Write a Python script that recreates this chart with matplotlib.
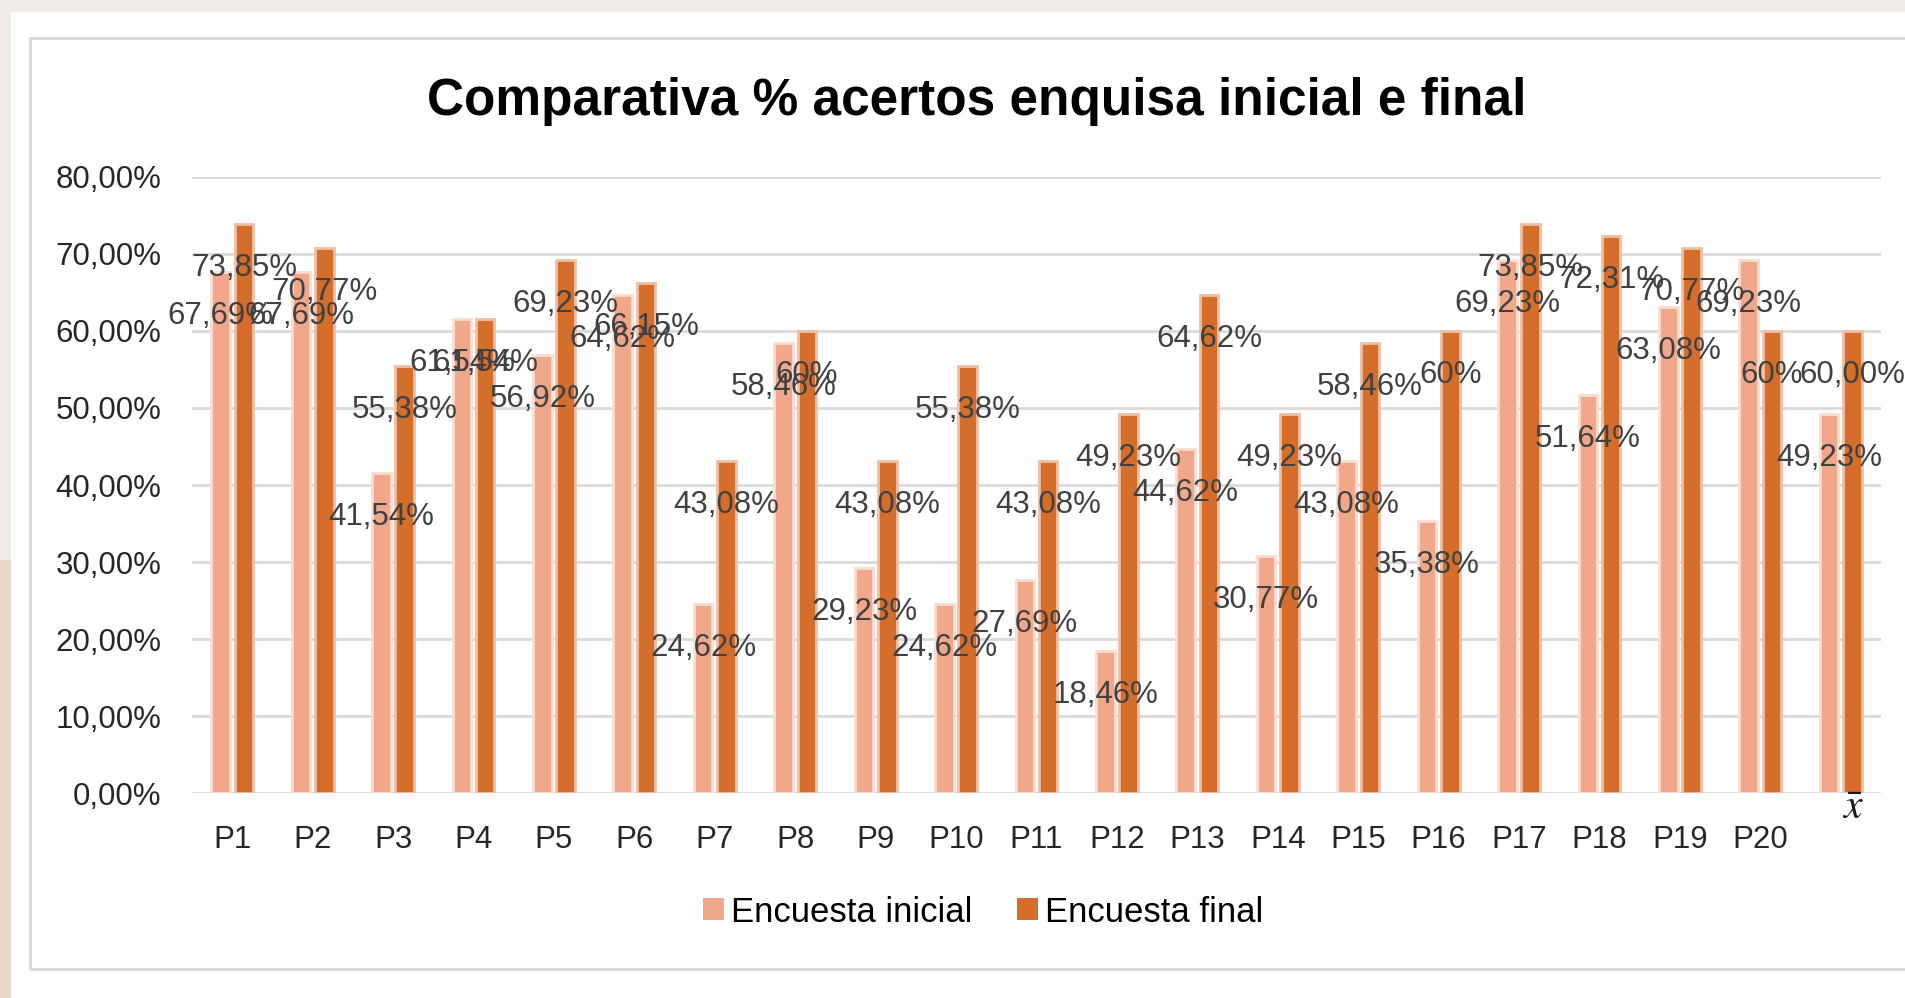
import matplotlib.pyplot as plt
from matplotlib.patches import Rectangle, Patch

# datos (porcentajes)
preguntas = ['P1', 'P2', 'P3', 'P4', 'P5', 'P6', 'P7', 'P8', 'P9', 'P10',
             'P11', 'P12', 'P13', 'P14', 'P15', 'P16', 'P17', 'P18', 'P19', 'P20']
media_label = '$\\bar{x}$'

inicial = [67.69, 67.69, 41.54, 61.54, 56.92, 64.62, 24.62, 58.46, 29.23, 24.62,
           27.69, 18.46, 44.62, 30.77, 43.08, 35.38, 69.23, 51.64, 63.08, 69.23, 49.23]
final = [73.85, 70.77, 55.38, 61.54, 69.23, 66.15, 43.08, 60.00, 43.08, 55.38,
         43.08, 49.23, 64.62, 49.23, 58.46, 60.00, 73.85, 72.31, 70.77, 60.00, 60.00]

etiq_inicial = ['67,69%', '67,69%', '41,54%', '61,54%', '56,92%', '64,62%', '24,62%',
                '58,46%', '29,23%', '24,62%', '27,69%', '18,46%', '44,62%', '30,77%',
                '43,08%', '35,38%', '69,23%', '51,64%', '63,08%', '69,23%', '49,23%']
etiq_final = ['73,85%', '70,77%', '55,38%', '61,54%', '69,23%', '66,15%', '43,08%',
              '60%', '43,08%', '55,38%', '43,08%', '49,23%', '64,62%', '49,23%',
              '58,46%', '60%', '73,85%', '72,31%', '70,77%', '60%', '60,00%']

yticks = [0, 10, 20, 30, 40, 50, 60, 70, 80]

W, H = 1906, 998
col_ini = '#f0a78a'
col_fin = '#d46e2a'
texto = '#404040'

plt.rcParams['font.family'] = ['Liberation Sans', 'DejaVu Sans']
plt.rcParams['mathtext.fontset'] = 'stix'

fig = plt.figure(figsize=(W / 100, H / 100), dpi=100)
fig.patch.set_facecolor('white')

def fx(px):
    return px / W

def fy(py):
    return 1 - py / H

# fondo de la pagina (bordes)
fig.patches.append(Rectangle((0, fy(12)), 1, 12 / H, transform=fig.transFigure,
                             facecolor='#eeebe8', edgecolor='none', zorder=0))
fig.patches.append(Rectangle((0, fy(560)), fx(11), 560 / H, transform=fig.transFigure,
                             facecolor='#eeebe8', edgecolor='none', zorder=0))
fig.patches.append(Rectangle((0, 0), fx(11), fy(560), transform=fig.transFigure,
                             facecolor='#e6d9c8', edgecolor='none', zorder=0))
# marco del grafico
fig.patches.append(Rectangle((fx(30.5), fy(968.5)), 1.1, (968.5 - 37.5) / H,
                             transform=fig.transFigure, facecolor='none',
                             edgecolor='#d9d9d9', linewidth=2.2, zorder=0.5))

ax = fig.add_axes([fx(192), fy(793.3), fx(1881) - fx(192), (793.3 - 176.7) / H])
ax.set_facecolor('none')
ax.set_zorder(2)

x = list(range(len(inicial)))
ancho = 0.23
off = 0.145
xi = [v - off for v in x]
xf = [v + off for v in x]

ax.bar(xi, inicial, width=ancho, color=col_ini, edgecolor='#f9ddd2', linewidth=2.0, zorder=3)
ax.bar(xf, final, width=ancho, color=col_fin, edgecolor='#efbfa6', linewidth=2.0, zorder=3)

for xx, v, t in zip(xi, inicial, etiq_inicial):
    ax.annotate(t, (xx, v), xytext=(0, -52), textcoords='offset pixels',
                ha='center', va='baseline', fontsize=22.5, color=texto, zorder=5)
for xx, v, t in zip(xf, final, etiq_final):
    ax.annotate(t, (xx, v), xytext=(0, -52), textcoords='offset pixels',
                ha='center', va='baseline', fontsize=22.5, color=texto, zorder=5)

ax.set_xlim(-0.5, len(inicial) - 0.5)
ax.set_ylim(0, 80)
ax.set_yticks(yticks)
ax.set_yticklabels(['%d,00%%' % t for t in yticks])
ax.set_xticks(x)
ax.set_xticklabels(preguntas + [''])
ax.tick_params(axis='y', length=0, pad=22, labelsize=22.5, labelcolor='#262626')
ax.tick_params(axis='x', length=0, pad=22.5, labelsize=22.5, labelcolor='#262626')
ax.grid(axis='y', color='#d9d9d9', linewidth=2.0, zorder=0)
ax.set_axisbelow(True)
for s in ax.spines.values():
    s.set_visible(False)

ax.annotate(media_label, xy=(x[-1] + off, 0), xycoords=('data', 'axes fraction'),
            xytext=(0, -15), textcoords='offset pixels', ha='center', va='center',
            fontsize=30, color='#1a1a1a')

fig.text(fx(977), fy(115), 'Comparativa % acertos enquisa inicial e final',
         ha='center', va='baseline', fontsize=37, fontweight='bold', color='black')

handles = [Patch(facecolor=col_ini, edgecolor='none'), Patch(facecolor=col_fin, edgecolor='none')]
fig.legend(handles, ['Encuesta inicial', 'Encuesta final'], loc='center',
           bbox_to_anchor=(fx(983), fy(912)), ncol=2, frameon=False, fontsize=25,
           handlelength=0.6, handleheight=0.6, handletextpad=0.2, columnspacing=1.3)

fig.savefig('out.png', dpi=100)
